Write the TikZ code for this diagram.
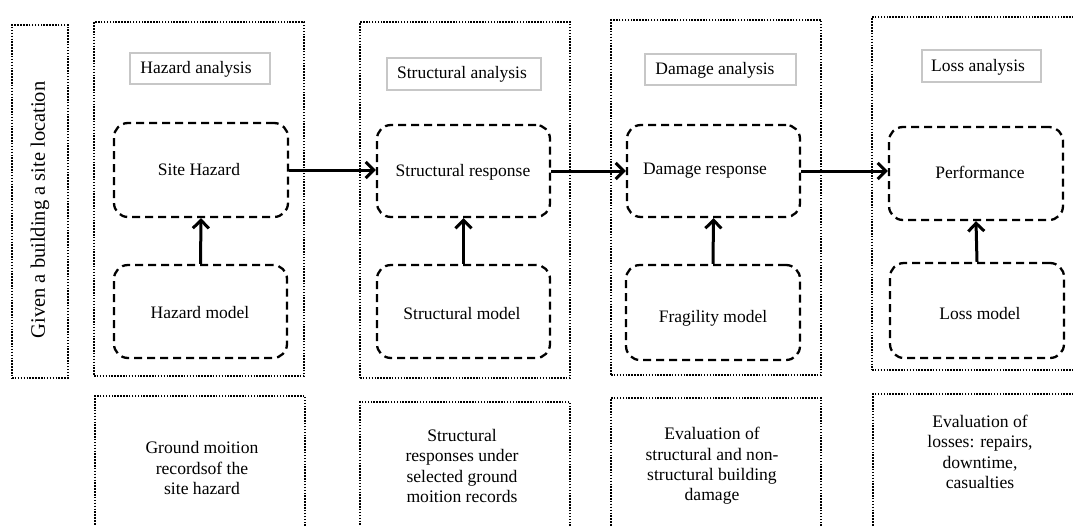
\documentclass[tikz,border=0pt]{standalone}
\usepackage{fontspec}
\setmainfont{Liberation Serif}
\usetikzlibrary{arrows.meta,fit}
\begin{document}
\begin{tikzpicture}[x=1pt,y=-1pt,
  dotbox/.style={draw, line width=1.6pt, dash pattern=on 1.5pt off 1.4pt, inner sep=0pt},
  titlebox/.style={draw=black!22, line width=1.1pt, fill=white, inner sep=0pt},
  lbl/.style={font=\fontsize{17.5}{21}\selectfont},
  dashbox/.style={draw, line width=2.3pt, dash pattern=on 8pt off 5pt, rounded corners=14pt, inner sep=0pt},
  txt/.style={align=center, font=\fontsize{17.6}{20.3}\selectfont},
  flow/.style={line width=3pt, -{Straight Barb[length=8pt,width=16pt]}}]
\useasboundingbox (0,0) rectangle (1073,525);
\clip (0,0) rectangle (1073,525);

% left label
\node[dotbox, fit={(12,25) (68,378)}] (given) {};
\node[rotate=90, font=\fontsize{20.5}{24}\selectfont] (giventxt) at (40,210) {Given a building a site location};

% columns
\node[dotbox, fit={(94,22) (304,376)}] (c1) {};
\node[dotbox, fit={(360,22) (570,378)}] (c2) {};
\node[dotbox, fit={(611,20) (821,375)}] (c3) {};
\node[dotbox, fit={(872,17) (1095,370)}] (c4) {};

% titles
\node[titlebox, fit={(130,53) (270,84)}] (t1) {};
\node[lbl] (t1t) at (196,69) {Hazard analysis};
\node[titlebox, fit={(387,58) (541,90)}] (t2) {};
\node[lbl] (t2t) at (462,74) {Structural analysis};
\node[titlebox, fit={(645,54) (796,85)}] (t3) {};
\node[lbl] (t3t) at (715,70) {Damage analysis};
\node[titlebox, fit={(922,50) (1041,82)}] (t4) {};
\node[lbl] (t4t) at (978,67) {Loss analysis};

% dashed boxes
\node[dashbox, fit={(114,123) (288,217)}] (sh) {};
\node[lbl] (sht) at (199,170) {Site Hazard};
\node[dashbox, fit={(114,265) (287,358)}] (hm) {};
\node[lbl] (hmt) at (200,313) {Hazard model};
\node[dashbox, fit={(377,125) (550,217)}] (sr) {};
\node[lbl] (srt) at (463,172) {Structural response};
\node[dashbox, fit={(377,265) (550,358)}] (sm) {};
\node[lbl] (smt) at (462,314) {Structural model};
\node[dashbox, fit={(627,125) (800,217)}] (dr) {};
\node[lbl] (drt) at (705,171) {Damage response};
\node[dashbox, fit={(626,265) (800,360)}] (fm) {};
\node[lbl] (fmt) at (713,318) {Fragility model};
\node[dashbox, fit={(889,127) (1063,220)}] (pf) {};
\node[lbl] (pft) at (980,172) {Performance};
\node[dashbox, fit={(890,263) (1064,358)}] (lm) {};
\node[lbl] (lmt) at (980,314) {Loss model};

% arrows
\draw[flow] (hm.north) -- (sh.south);
\draw[flow] (sm.north) -- (sr.south);
\draw[flow] (fm.north) -- (dr.south);
\draw[flow] (lm.north) -- (pf.south);
\draw[flow] (sh.east) -- (sh.east -| sr.west);
\draw[flow] (sr.east) -- (sr.east -| dr.west);
\draw[flow] (dr.east) -- (dr.east -| pf.west);

% lower boxes
\node[dotbox, fit={(95,396) (305,545)}] (b1) {};
\node[txt] (b1t) at (202,468) {Ground moition\\recordsof the\\site hazard};
\node[dotbox, fit={(360,402) (570,545)}] (b2) {};
\node[txt] (b2t) at (462,466) {Structural\\responses under\\selected ground\\moition records};
\node[dotbox, fit={(611,398) (821,545)}] (b3) {};
\node[txt] (b3t) at (712,466) {Evaluation of\\structural and non-\\structural building\\damage};
\node[dotbox, fit={(873,394) (1095,545)}] (b4) {};
\node[txt] (b4t) at (980,452) {Evaluation of\\losses: repairs,\\downtime,\\casualties};
\end{tikzpicture}
\end{document}
